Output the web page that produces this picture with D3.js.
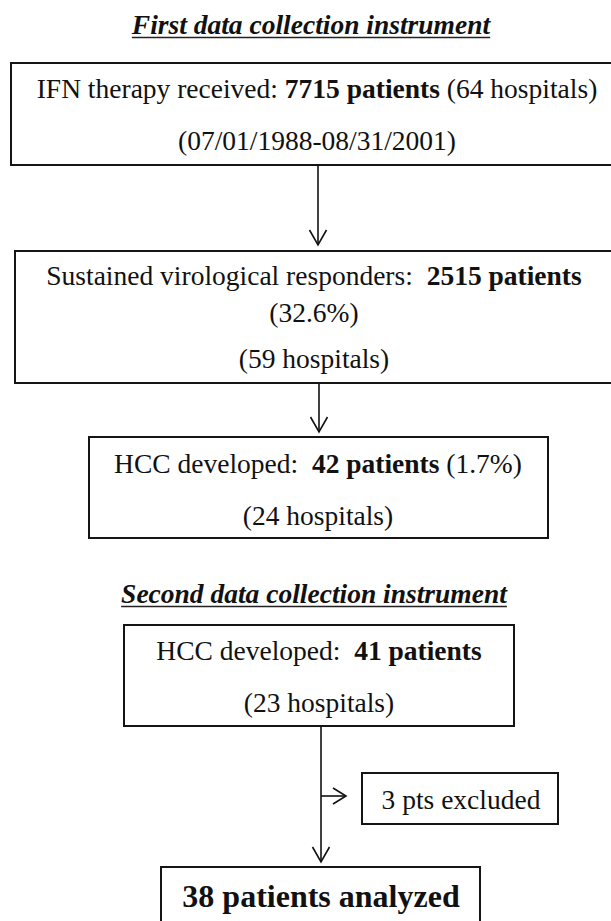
<!DOCTYPE html>
<html>
<head>
<meta charset="utf-8">
<script src="https://cdn.jsdelivr.net/npm/d3@7"></script>
<style>
  html, body { margin: 0; padding: 0; background: #fff; }
  text { font-family: "Liberation Serif", "Times New Roman", serif; fill: #111; white-space: pre; }
</style>
</head>
<body>
<main></main>
<script>
// flow chart data
var sectionTitles = ["First data collection instrument", "Second data collection instrument"];
var stageLabels = ["IFN therapy received:", "Sustained virological responders:", "HCC developed:", "HCC developed:", "pts excluded", "patients analyzed"];
var patientCounts = [7715, 2515, 42, 41, 3, 38];
var hospitalCounts = [64, 59, 24, 23];
var percents = ["", "32.6%", "1.7%", ""];
var period = "(07/01/1988-08/31/2001)";

var width = 611, height = 921;

var svg = d3.select("main").append("svg")
    .attr("width", width)
    .attr("height", height);

// text lines of each box, each line is a list of [text, bold]
var boxText = [
  [[[stageLabels[0] + " ", false], [patientCounts[0] + " patients", true], [" (" + hospitalCounts[0] + " hospitals)", false]],
   [[period, false]]],
  [[[stageLabels[1] + "  ", false], [patientCounts[1] + " patients", true]],
   [["(" + percents[1] + ")", false]],
   [["(" + hospitalCounts[1] + " hospitals)", false]]],
  [[[stageLabels[2] + "  ", false], [patientCounts[2] + " patients", true], [" (" + percents[2] + ")", false]],
   [["(" + hospitalCounts[2] + " hospitals)", false]]],
  [[[stageLabels[3] + "  ", false], [patientCounts[3] + " patients", true]],
   [["(" + hospitalCounts[3] + " hospitals)", false]]],
  [[[patientCounts[4] + " " + stageLabels[4], false]]],
  [[[patientCounts[5] + " " + stageLabels[5], true]]]
];

// layout
var boxes = [
  {x0: 11, x1: 640, y0: 63, y1: 165, cx: 317, base: [98, 150], size: 27.5},
  {x0: 15, x1: 640, y0: 251, y1: 383, cx: 314, base: [285, 322, 368], size: 27.5},
  {x0: 89, x1: 548, y0: 437, y1: 538, cx: 318, base: [473, 525], size: 27.5},
  {x0: 124, x1: 514, y0: 625, y1: 726, cx: 319, base: [660, 712], size: 27.5},
  {x0: 362, x1: 558, y0: 773, y1: 824, cx: 461, base: [809], size: 27.5},
  {x0: 161, x1: 480, y0: 867, y1: 940, cx: 321, base: [907], size: 32}
];

var titles = [
  {cx: 311, y: 34},
  {cx: 314, y: 603}
];

var arrows = [
  [318, 165, 318, 250],
  [319, 383, 319, 437],
  [321, 726, 321, 867],
  [321, 796, 346, 796]
];

svg.selectAll("rect.box")
  .data(boxes)
  .enter().append("rect")
    .attr("class", "box")
    .attr("x", function(d) { return d.x0; })
    .attr("y", function(d) { return d.y0; })
    .attr("width", function(d) { return d.x1 - d.x0; })
    .attr("height", function(d) { return d.y1 - d.y0; })
    .style("fill", "none")
    .style("stroke", "#151515")
    .style("stroke-width", 2);

boxes.forEach(function(b, i) {
  boxText[i].forEach(function(line, j) {
    var t = svg.append("text")
        .attr("x", b.cx)
        .attr("y", b.base[j])
        .attr("text-anchor", "middle")
        .style("font-size", b.size + "px");
    line.forEach(function(seg) {
      t.append("tspan")
          .text(seg[0])
          .style("font-weight", seg[1] ? "bold" : "normal");
    });
  });
});

titles.forEach(function(d, i) {
  var t = svg.append("text")
      .attr("x", d.cx)
      .attr("y", d.y)
      .attr("text-anchor", "middle")
      .style("font-size", "27.5px")
      .style("font-weight", "bold")
      .style("font-style", "italic")
      .text(sectionTitles[i]);
  var w = t.node().getComputedTextLength();
  svg.append("line")
      .attr("x1", d.cx - w / 2)
      .attr("x2", d.cx + w / 2)
      .attr("y1", d.y + 3.5)
      .attr("y2", d.y + 3.5)
      .style("stroke", "#222")
      .style("stroke-width", 1.6);
});

arrows.forEach(function(a) {
  var x1 = a[0], y1 = a[1], x2 = a[2], y2 = a[3];
  var horiz = y1 === y2;
  var tipX = horiz ? x2 : x2, tipY = horiz ? y2 : y2 - 5;
  svg.append("line")
      .attr("x1", x1).attr("y1", y1)
      .attr("x2", tipX).attr("y2", tipY)
      .style("stroke", "#111")
      .style("stroke-width", 1.6);
  var p = horiz
    ? [[tipX - 13, tipY - 8], [tipX, tipY], [tipX - 13, tipY + 8]]
    : [[tipX - 8.5, tipY - 15], [tipX, tipY], [tipX + 8.5, tipY - 15]];
  svg.append("path")
      .attr("d", d3.line()(p))
      .style("fill", "none")
      .style("stroke", "#111")
      .style("stroke-width", 1.6);
});
</script>
</body>
</html>
